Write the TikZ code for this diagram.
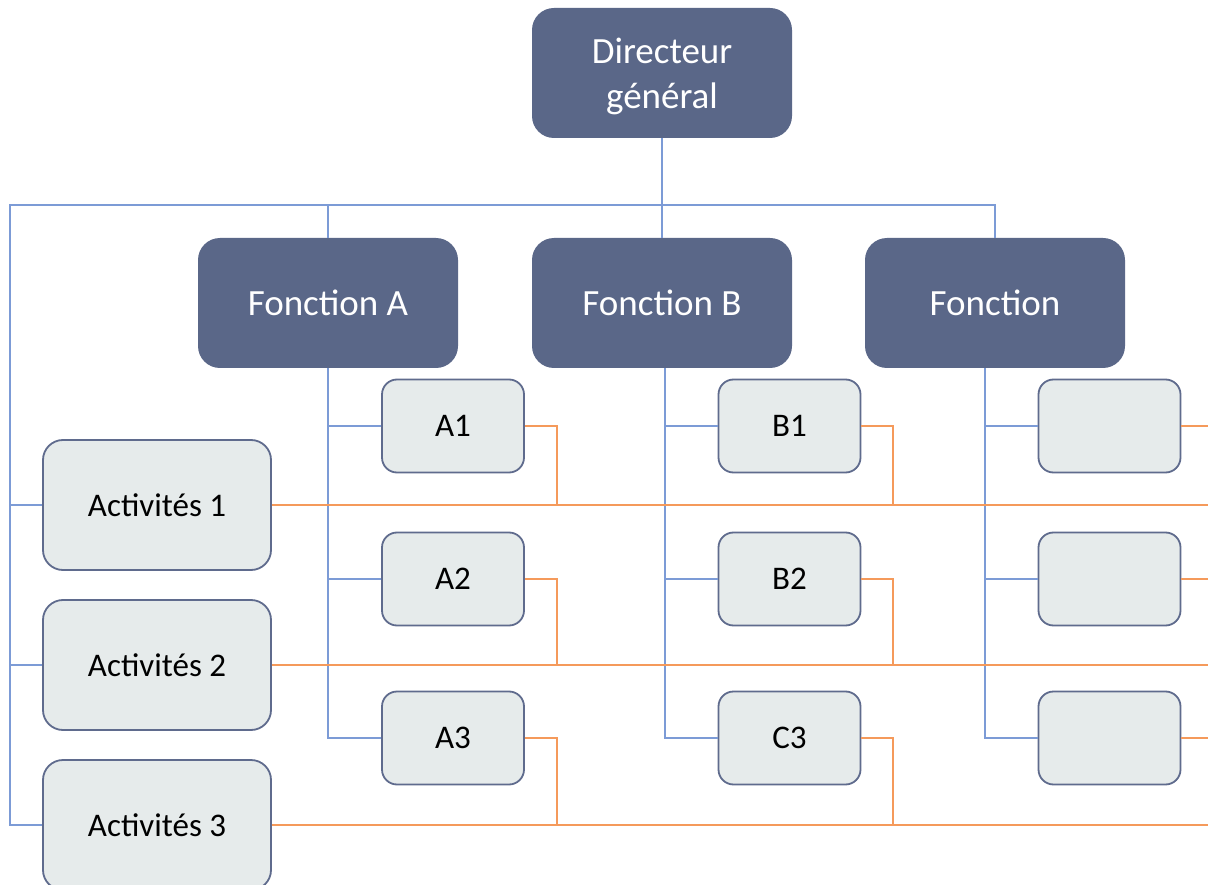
\documentclass[tikz,border=0pt]{standalone}
\usepackage{fontspec}
\setmainfont{Carlito}
\definecolor{darkbox}{HTML}{5A6788}
\definecolor{lightbox}{HTML}{E6EBEB}
\definecolor{boxborder}{HTML}{5F6B8D}
\definecolor{blueline}{HTML}{7C9BD6}
\definecolor{orangeline}{HTML}{F59A5B}
\tikzset{
  topbox/.style={rectangle, rounded corners=22pt, fill=darkbox, draw=none, text=white,
    minimum width=260pt, minimum height=130pt, align=center,
    font=\fontsize{37}{45}\selectfont},
  subbox/.style={rectangle, rounded corners=15pt, fill=lightbox, draw=boxborder, line width=1.8pt,
    minimum width=142pt, minimum height=93pt, text=black, font=\fontsize{33}{38}\selectfont},
  actbox/.style={rectangle, rounded corners=20pt, fill=lightbox, draw=boxborder, line width=1.8pt,
    minimum width=228pt, minimum height=130pt, text=black, font=\fontsize{33}{38}\selectfont},
  bl/.style={draw=blueline, line width=1.4pt},
  orl/.style={draw=orangeline, line width=1.4pt},
}
\begin{document}
\begin{tikzpicture}[x=1pt,y=-1pt]
\clip (0,0) rectangle (1208,885);
\fill[white] (0,0) rectangle (1208,885);
% coordinates for buses
\coordinate (busL) at (10,205);
\coordinate (oa) at (557,0);
\coordinate (ob) at (893,0);
\coordinate (vb) at (665,0);
\coordinate (vc) at (985,0);
\coordinate (edge) at (1208,0);

% nodes
\node[topbox] (dg) at (662,73) {};
\node[font=\fontsize{37}{45}\selectfont, text=white, align=center] (dgtext) at (662,76) {Directeur\\général};
\node[topbox] (fa) at (328,303) {Fonction A};
\node[topbox] (fb) at (662,303) {Fonction B};
\node[topbox] (fc) at (995,303) {Fonction};

\node[subbox] (a1) at (453,426) {A1};
\node[subbox] (a2) at (453,579) {A2};
\node[subbox] (a3) at (453,738) {A3};
\node[subbox] (b1) at (789.5,426) {B1};
\node[subbox] (b2) at (789.5,579) {B2};
\node[subbox] (b3) at (789.5,738) {C3};
\node[subbox] (c1) at (1109.5,426) {};
\node[subbox] (c2) at (1109.5,579) {};
\node[subbox] (c3) at (1109.5,738) {};

\node[actbox] (act1) at (157,505) {Activités 1};
\node[actbox] (act2) at (157,665) {Activités 2};
\node[actbox] (act3) at (157,825) {Activités 3};

% top bus
\draw[bl] (dg.south) -- (dg.south |- busL);
\draw[bl] (fa.north) -- (fa.north |- busL);
\draw[bl] (fb.north) -- (fb.north |- busL);
\draw[bl] (fc.north) |- (busL) -- (busL |- act3.west) -- (act3.west);
\draw[bl] (busL |- act1.west) -- (act1.west);
\draw[bl] (busL |- act2.west) -- (act2.west);

% column A
\draw[bl] (fa.south) |- (a3.west);
\draw[bl] (fa.south |- a1.west) -- (a1.west);
\draw[bl] (fa.south |- a2.west) -- (a2.west);
% column B
\draw[bl] (vb |- fb.south) |- (b3.west);
\draw[bl] (vb |- b1.west) -- (b1.west);
\draw[bl] (vb |- b2.west) -- (b2.west);
% column C
\draw[bl] (vc |- fc.south) |- (c3.west);
\draw[bl] (vc |- c1.west) -- (c1.west);
\draw[bl] (vc |- c2.west) -- (c2.west);

% orange rows
\draw[orl] (act1.east) -- (edge |- act1.east);
\draw[orl] (act2.east) -- (edge |- act2.east);
\draw[orl] (act3.east) -- (edge |- act3.east);
\draw[orl] (a1.east) -| (oa |- act1.east);
\draw[orl] (a2.east) -| (oa |- act2.east);
\draw[orl] (a3.east) -| (oa |- act3.east);
\draw[orl] (b1.east) -| (ob |- act1.east);
\draw[orl] (b2.east) -| (ob |- act2.east);
\draw[orl] (b3.east) -| (ob |- act3.east);
\draw[orl] (c1.east) -- (edge |- c1.east);
\draw[orl] (c2.east) -- (edge |- c2.east);
\draw[orl] (c3.east) -- (edge |- c3.east);
\end{tikzpicture}
\end{document}
